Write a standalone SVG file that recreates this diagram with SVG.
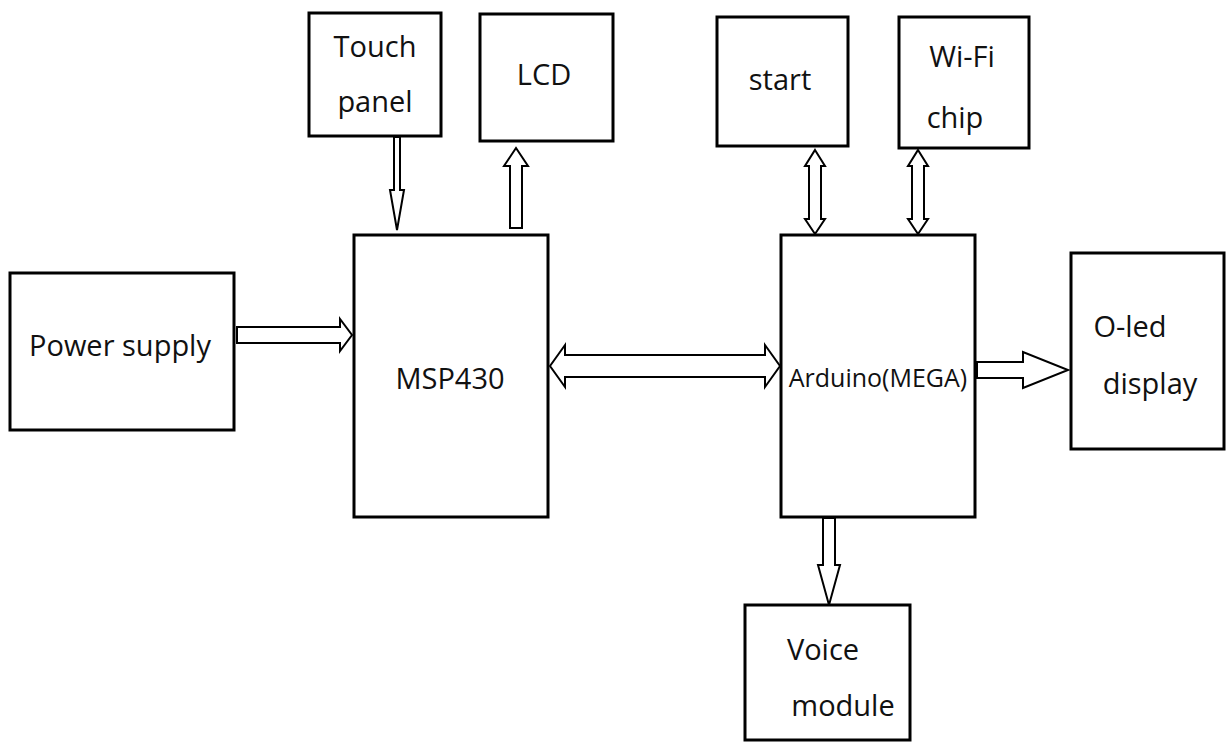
<svg xmlns="http://www.w3.org/2000/svg" width="1226" height="745" viewBox="0 0 1226 745">
<style>
.box{fill:#fff;stroke:#000;stroke-width:3}
.t{font-family:"Open Sans","Liberation Sans",sans-serif;font-size:29px;fill:#111}
.ar{fill:#fff;stroke:#000;stroke-width:2}
</style>
<rect width="1226" height="745" fill="#fff"/>
<g id="connectors">
<path class="ar" d="M394,137 V190 L390,190 L397,230 L404,190 L400,190 V137 Z"/>
<path class="ar" d="M510,228 V166 L504,166 L516,148 L528,166 L522,166 V228 Z"/>
<path class="ar" d="M237,327 H340 V319 L352,335 L340,351 V343 H237 Z"/>
<path class="ar" d="M550,366 L565,345 V355 H765 V345 L780,366 L765,387 V377 H565 V387 Z"/>
<path class="ar" d="M815,150 L825,166 H821 V219 H825 L815,234 L805,219 H809 V166 H805 Z"/>
<path class="ar" d="M918,150 L928,166 H924 V219 H928 L918,234 L908,219 H912 V166 H908 Z"/>
<path class="ar" d="M977,362 H1023 V352 L1068,370 L1023,388 V378 H977 Z"/>
<path class="ar" d="M823,518 V565 L818,565 L829,605 L840,565 L835,565 V518 Z"/>
</g>
<g id="touch"><rect class="box" x="309" y="13" width="132" height="123"/><text class="t" x="375" y="57" text-anchor="middle">Touch</text><text class="t" x="375" y="112" text-anchor="middle">panel</text></g>
<g id="lcd"><rect class="box" x="480" y="14" width="133" height="127"/><text class="t" x="544" y="85" text-anchor="middle">LCD</text></g>
<g id="start"><rect class="box" x="717" y="17" width="131" height="129"/><text class="t" x="780" y="90" text-anchor="middle">start</text></g>
<g id="wifi"><rect class="box" x="899" y="17" width="130" height="131"/><text class="t" x="962" y="67" text-anchor="middle">Wi-Fi</text><text class="t" x="955" y="128" text-anchor="middle">chip</text></g>
<g id="power"><rect class="box" x="10" y="273" width="224" height="157"/><text class="t" x="120" y="356" text-anchor="middle">Power supply</text></g>
<g id="msp"><rect class="box" x="354" y="235" width="194" height="282"/><text class="t" x="450" y="389" text-anchor="middle">MSP430</text></g>
<g id="arduino"><rect class="box" x="781" y="235" width="194" height="282"/><text class="t" x="878" y="387" text-anchor="middle" style="font-size:25px">Arduino(MEGA)</text></g>
<g id="oled"><rect class="box" x="1071" y="253" width="153" height="196"/><text class="t" x="1130" y="337" text-anchor="middle">O-led</text><text class="t" x="1150" y="394" text-anchor="middle">display</text></g>
<g id="voice"><rect class="box" x="745" y="605" width="165" height="135"/><text class="t" x="823" y="660" text-anchor="middle">Voice</text><text class="t" x="843" y="716" text-anchor="middle">module</text></g>
</svg>
